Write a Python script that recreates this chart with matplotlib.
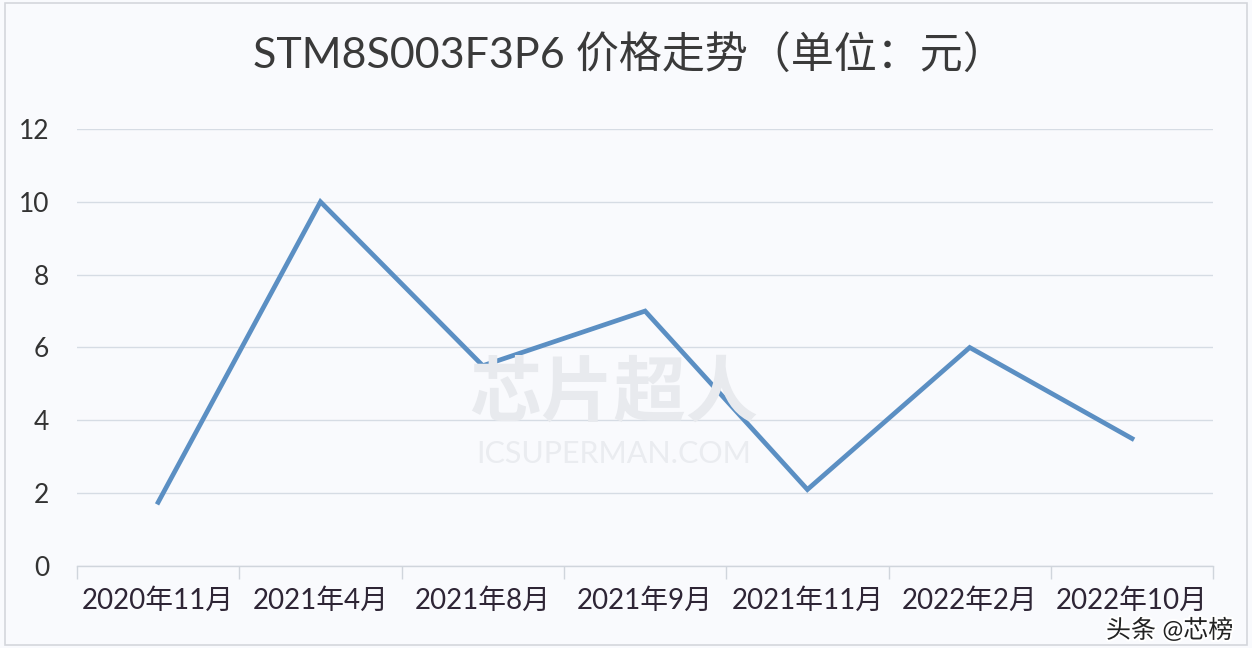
import matplotlib
matplotlib.use("Agg")
import matplotlib.pyplot as plt
import matplotlib.patheffects as pe

plt.rcParams['font.family'] = ['Lato', 'Noto Sans CJK SC', 'DejaVu Sans']

categories = ["2020年11月", "2021年4月", "2021年8月", "2021年9月", "2021年11月", "2022年2月", "2022年10月"]
prices = [1.75, 10.0, 5.5, 7.0, 2.1, 6.0, 3.5]
yticks = [0, 2, 4, 6, 8, 10, 12]
title = "STM8S003F3P6 价格走势（单位：元）"

bg = "#f9fafd"
fig = plt.figure(figsize=(12.52, 6.48), dpi=100, facecolor=bg)
ax = fig.add_axes([0.0615, 0.1265, 0.9075, 0.6745], facecolor=bg)

x = list(range(len(categories)))
ax.plot(x, prices, color="#5b8fc3", linewidth=3.4, solid_joinstyle="miter", zorder=3)

ax.set_xlim(-0.5, len(categories) - 0.5)
ax.set_ylim(0, 12)
ax.set_yticks(yticks)
ax.set_yticklabels([str(v) for v in yticks], fontsize=19, color="#333333")
ax.set_xticks(x)
ax.set_xticklabels(categories, fontsize=20, color="#2e2535")
ax.tick_params(axis='y', length=0, pad=20)
ax.tick_params(axis='x', which='major', length=0, pad=16)
ax.set_xticks([i - 0.5 for i in range(len(categories) + 1)], minor=True)
ax.tick_params(axis='x', which='minor', length=9, color="#d0d5dc", width=1)

ax.grid(axis='y', color="#d6dce4", linewidth=1)
ax.set_axisbelow(True)
for s in ['top', 'right', 'left']:
    ax.spines[s].set_visible(False)
ax.spines['bottom'].set_color("#d0d5dc")
ax.spines['bottom'].set_linewidth(1)

fig.text(0.503, 0.915, title, ha='center', va='center', fontsize=31, color="#3a3a3a")

# faint watermark
fig.text(0.49, 0.39, "芯片超人", ha='center', va='center', fontsize=52,
         color="#e8eaee", fontweight='bold', zorder=0)
fig.text(0.49, 0.30, "ICSUPERMAN.COM", ha='center', va='center', fontsize=22,
         color="#eaecf0", zorder=0)

# overlay watermark bottom right
fig.text(0.985, 0.028, "头条 @芯榜", ha='right', va='center', fontsize=18, color="#222222",
         path_effects=[pe.withStroke(linewidth=3, foreground="white")], zorder=10)

# outer border
fig.patches.append(plt.Rectangle((0.004, 0.004), 0.992, 0.992, transform=fig.transFigure,
                                 fill=False, edgecolor="#d4d7dc", linewidth=1.2))

fig.savefig("out.png", dpi=100, facecolor=bg)
